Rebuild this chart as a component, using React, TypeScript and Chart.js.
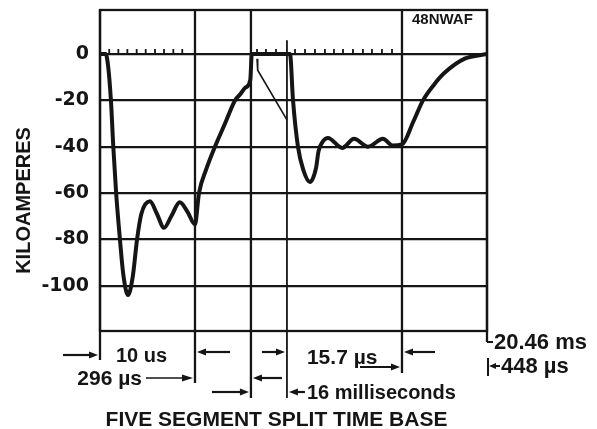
import { useEffect, useRef } from "react";
import { Chart, registerables } from "chart.js";

Chart.register(...registerables);

// ---- data (x in time-base divisions of the split sweep, y in kiloamperes) ----
const Y_TICKS = [0, -20, -40, -60, -80, -100];
const SEGMENT_BOUNDS = [0, 10, 15.89, 19.68, 31.79, 40.74];

const TRACE_X = [
  0, 0.6, 0.85, 1.15, 1.4, 1.7, 2.1, 2.45, 2.95, 3.45, 3.9, 4.35, 5.26, 6.0, 6.74, 7.5, 8.4, 9.2, 10.0,
  10.42, 11.16, 12.1, 13.16, 14.21, 14.74, 15.3, 15.82,
  15.98, 20.0,
  20.32, 20.84, 21.4, 22.1, 22.75, 23.0, 23.5, 24.0, 25.5, 26.74, 28.21, 29.79, 30.8, 31.79,
  33.0, 34.0, 35.2, 36.3, 38.4, 40.74,
];
const TRACE_Y = [
  0, 0, -5, -20, -40, -60, -80, -95, -104, -96, -80, -69, -63.5, -69, -75, -70, -64, -68, -73.5,
  -60, -50, -40, -30, -20, -17.5, -14.5, -11.2,
  0, 0,
  -20, -40, -50, -55.2, -49, -42, -37.5, -36.2, -40.5, -36.6, -40, -36.6, -39.5, -39,
  -29, -20, -13, -8, -2, 0,
];

const THIN_X = [16.53, 16.6, 19.68];
const THIN_Y = [-2, -7, -28.4];

const TICK_MARKS = [
  0.97, 1.93, 2.88, 3.86, 4.81, 5.79, 6.74, 7.72, 8.66,
  16.53, 17.47, 18.53,
  20.53, 21.58, 22.63, 23.68, 24.63, 25.58, 26.63, 27.68, 28.63, 29.68, 30.74,
];
const TALL_TICK_TOP = 6;

const Y_TITLE = "KILOAMPERES";
const X_TITLE = "FIVE SEGMENT SPLIT TIME BASE";
const CODE_LABEL = "48NWAF";
const SEGMENT_LABELS = ["10 us", "296 µs", "16 milliseconds", "15.7 µs", "20.46 ms", "448 µs"];

const INK = "#151515";
const WORD_FONT = 'bold 20px "Liberation Sans", Arial, sans-serif';
const BIG_FONT = 'bold 21px "Liberation Sans", Arial, sans-serif';

function arrow(ctx: CanvasRenderingContext2D, x1: number, x2: number, y: number, lw = 2.2, head = 9, half = 3.6) {
  const dir = Math.sign(x2 - x1);
  ctx.lineWidth = lw;
  ctx.beginPath();
  ctx.moveTo(x1, y);
  ctx.lineTo(x2 - dir * head * 0.7, y);
  ctx.stroke();
  ctx.beginPath();
  ctx.moveTo(x2, y);
  ctx.lineTo(x2 - dir * head, y - half);
  ctx.lineTo(x2 - dir * head, y + half);
  ctx.closePath();
  ctx.fill();
}

const EXT_BELOW = [29, 52, 67, 67, 42, 11];

const decor = {
  id: "decor",
  beforeDatasetsDraw(chart: any) {
    const { ctx, chartArea: a, scales } = chart;
    const x = scales.x;
    const y = scales.y;
    ctx.save();
    ctx.strokeStyle = INK;
    ctx.lineWidth = 2.3;
    ctx.strokeRect(a.left, a.top, a.right - a.left, a.bottom - a.top);
    SEGMENT_BOUNDS.forEach((b, i) => {
      const px = x.getPixelForValue(b);
      const top = i === 3 ? y.getPixelForValue(TALL_TICK_TOP) : a.top;
      ctx.lineWidth = i === 3 ? 1.8 : 2.3;
      ctx.beginPath();
      ctx.moveTo(px, top);
      ctx.lineTo(px, a.bottom + EXT_BELOW[i]);
      ctx.stroke();
    });
    const y0 = y.getPixelForValue(0);
    ctx.lineWidth = 1.8;
    TICK_MARKS.forEach((t) => {
      const px = x.getPixelForValue(t);
      ctx.beginPath();
      ctx.moveTo(px, y0);
      ctx.lineTo(px, y0 - 5);
      ctx.stroke();
    });
    ctx.restore();
  },
  afterDraw(chart: any) {
    const { ctx, chartArea: a, scales } = chart;
    const x = scales.x;
    const bx = SEGMENT_BOUNDS.map((b) => x.getPixelForValue(b));
    const bot = a.bottom;
    ctx.save();
    ctx.strokeStyle = INK;
    ctx.fillStyle = INK;
    ctx.textBaseline = "middle";

    // y axis title
    ctx.save();
    ctx.translate(24.5, 200.5);
    ctx.rotate(-Math.PI / 2);
    ctx.font = WORD_FONT;
    ctx.textAlign = "center";
    ctx.fillText(Y_TITLE, 0, 0);
    ctx.restore();

    // code label top-right
    ctx.font = 'bold 15px "Liberation Sans", Arial, sans-serif';
    ctx.textAlign = "left";
    ctx.fillText(CODE_LABEL, bx[4] + 10, a.top + 10);

    ctx.font = WORD_FONT;
    ctx.textAlign = "left";
    // segment 1
    arrow(ctx, bx[0] - 37, bx[0] - 2, bot + 24);
    ctx.fillText(SEGMENT_LABELS[0], bx[0] + 16, bot + 25);
    arrow(ctx, bx[1] + 35, bx[1] + 2, bot + 21);
    ctx.textAlign = "right";
    ctx.font = BIG_FONT;
    ctx.fillText(SEGMENT_LABELS[1], bx[1] - 53, bot + 48);
    arrow(ctx, bx[1] - 49, bx[1] - 2, bot + 47, 1.5, 11, 3.6);
    // segment 3
    arrow(ctx, bx[3] - 25, bx[3] - 2, bot + 21);
    arrow(ctx, bx[2] + 31, bx[2] + 2, bot + 47);
    arrow(ctx, bx[2] - 39, bx[2] - 2, bot + 61);
    arrow(ctx, bx[3] + 18, bx[3] + 2, bot + 61);
    ctx.textAlign = "left";
    ctx.font = WORD_FONT;
    ctx.fillText(SEGMENT_LABELS[2], bx[3] + 20, bot + 62);
    // segment 4
    ctx.font = BIG_FONT;
    ctx.fillText(SEGMENT_LABELS[3], bx[3] + 20, bot + 27);
    arrow(ctx, bx[4] - 42, bx[4] - 2, bot + 36);
    arrow(ctx, bx[4] + 33, bx[4] + 2, bot + 21);
    // segment 5
    ctx.lineWidth = 2;
    ctx.beginPath();
    ctx.moveTo(bx[5], bot + EXT_BELOW[5]);
    ctx.lineTo(bx[5] + 6, bot + EXT_BELOW[5]);
    ctx.stroke();
    ctx.font = 'bold 22px "Liberation Sans", Arial, sans-serif';
    ctx.fillText(SEGMENT_LABELS[4], bx[5] + 7, bot + 12);
    ctx.beginPath();
    ctx.moveTo(bx[5] + 1, bot + 27);
    ctx.lineTo(bx[5] + 1, bot + 45);
    ctx.stroke();
    arrow(ctx, bx[5] + 13, bx[5] + 2, bot + 35, 2, 7, 3);
    ctx.fillText(SEGMENT_LABELS[5], bx[5] + 14, bot + 36);

    // x title
    ctx.font = BIG_FONT;
    ctx.textAlign = "center";
    ctx.fillText(X_TITLE, (a.left + a.right) / 2 - 17, bot + 89);
    ctx.restore();
  },
};

export default function App() {
  const ref = useRef<HTMLCanvasElement>(null);
  useEffect(() => {
    if (!ref.current) return;
    const chart = new Chart(ref.current, {
      type: "line",
      data: {
        datasets: [
          {
            data: TRACE_X.map((v, i) => ({ x: v, y: TRACE_Y[i] })),
            borderColor: INK,
            borderWidth: 4,
            pointRadius: 0,
            cubicInterpolationMode: "monotone",
            fill: false,
            borderJoinStyle: "round",
            borderCapStyle: "round",
          },
          {
            data: THIN_X.map((v, i) => ({ x: v, y: THIN_Y[i] })),
            borderColor: INK,
            borderWidth: 1.6,
            pointRadius: 0,
            tension: 0,
            fill: false,
          },
        ],
      },
      options: {
        animation: false,
        responsive: true,
        maintainAspectRatio: false,
        layout: { padding: { left: 0, right: 110, top: 10, bottom: 98 } },
        plugins: { legend: { display: false }, tooltip: { enabled: false } },
        scales: {
          x: { type: "linear", min: SEGMENT_BOUNDS[0], max: SEGMENT_BOUNDS[SEGMENT_BOUNDS.length - 1], display: false },
          y: {
            type: "linear",
            min: -119.5,
            max: 19,
            afterFit: (s: any) => {
              s.width = 100;
              s.paddingTop = 0;
              s.paddingBottom = 0;
            },
            afterBuildTicks: (s: any) => {
              s.ticks = Y_TICKS.map((v) => ({ value: v }));
            },
            border: { display: false },
            grid: { color: INK, lineWidth: 2.3, drawTicks: false },
            ticks: {
              color: INK,
              padding: 11,
              font: { family: '"DejaVu Sans", sans-serif', weight: "bold", size: 19 },
              callback: (v: any) => String(v),
            },
          },
        },
      },
      plugins: [decor],
    });
    return () => chart.destroy();
  }, []);
  return (
    <div style={{ position: "fixed", left: 0, top: 0, width: 597, height: 429, background: "#fff" }}>
      <canvas ref={ref} />
    </div>
  );
}
